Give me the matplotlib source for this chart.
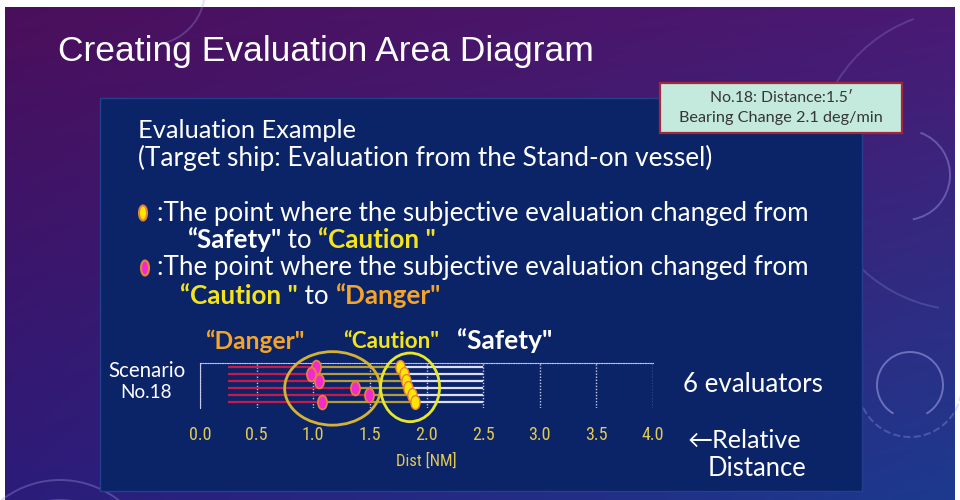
import numpy as np
import matplotlib
matplotlib.use('Agg')
import matplotlib.pyplot as plt
from matplotlib.patches import Rectangle, Ellipse, Arc
from matplotlib.path import Path
from matplotlib.transforms import Affine2D
from matplotlib.colors import to_rgb

# ---------------- data ----------------
evaluators = [1, 2, 3, 4, 5, 6]
track_start = [0.25, 0.25, 0.25, 0.25, 0.25, 0.25]
track_end = [2.5, 2.5, 2.5, 2.5, 2.5, 2.5]
danger_points = [1.02, 0.98, 1.05, 1.37, 1.49, 1.08]   # Caution -> Danger
caution_points = [1.77, 1.80, 1.82, 1.84, 1.87, 1.90]  # Safety -> Caution
x_ticks = [0.0, 0.5, 1.0, 1.5, 2.0, 2.5, 3.0, 3.5, 4.0]
x_tick_labels = ['0.0', '0.5', '1.0', '1.5', '2.0', '2.5', '3.0', '3.5', '4.0']
zone_labels = ['“Danger"', '“Caution"', '“Safety"']
x_label = 'Dist [NM]'

# ---------------- colours ----------------
RED = '#c81a4a'
OLIVE = '#b39c3c'
WHITE_LINE = '#dedef2'
PINK = '#f22ccc'
YELLOW = '#ffe600'
MARK_EDGE = '#e8823a'
TXT_YEL = '#f4e41c'
TXT_ORG = '#f3a42a'
GOLD = '#e2ca52'
BODY = ['Lato', 'DejaVu Sans']
NARROW = ['Roboto Condensed', 'Liberation Sans Narrow', 'Open Sans Condensed',
          'DejaVu Sans']

fig = plt.figure(figsize=(9.6, 5), dpi=100)
fig.patch.set_facecolor('white')
bg = fig.add_axes([0, 0, 1, 1])
bg.set_xlim(0, 960)
bg.set_ylim(500, 0)
bg.axis('off')

# slide gradient background
tl, tr = np.array(to_rgb('#4b0f5c')), np.array(to_rgb('#4a1a74'))
bl, br = np.array(to_rgb('#2c1c7a')), np.array(to_rgb('#1c3a8e'))
ny, nx = 60, 120
u = np.linspace(0, 1, nx)[None, :, None]
v = np.linspace(0, 1, ny)[:, None, None]
img = (1 - v) * ((1 - u) * tl + u * tr) + v * ((1 - u) * bl + u * br)
bg.imshow(img, extent=(5, 955, 500, 7), aspect='auto', interpolation='bilinear', zorder=0)

# faint decorative arcs
deco = dict(color='#9a9ae0', lw=1.4, zorder=1)
bg.add_patch(Arc((910, 385), 66, 66, theta1=120, theta2=420, alpha=0.6, **deco))
bg.add_patch(Arc((910, 385), 104, 104, theta1=10, theta2=170, alpha=0.35, linestyle='--', **deco))
bg.add_patch(Arc((905, 175), 90, 90, theta1=-70, theta2=80, alpha=0.45, **deco))
bg.add_patch(Arc((965, 160), 300, 300, theta1=100, theta2=250, alpha=0.25, **deco))
bg.add_patch(Arc((60, 575), 190, 190, theta1=200, theta2=340, alpha=0.35, **deco))
bg.add_patch(Arc((60, 575), 150, 150, theta1=200, theta2=340, alpha=0.35, **deco))
bg.add_patch(Arc((150, -10), 110, 110, theta1=0, theta2=80, alpha=0.3, **deco))

# blue content panel
bg.add_patch(Rectangle((100, 98), 762, 393, facecolor='#0b2468', edgecolor='#24408c',
                       lw=1, zorder=2))

renderer = fig.canvas.get_renderer()


def put(x, y, s, w=None, size=14, ha='left', **kw):
    t = bg.text(x, y, s, fontsize=size, ha=ha, va='center', zorder=5, **kw)
    if w:
        cur = t.get_window_extent(renderer).width
        t.set_fontsize(size * w / cur)
    return t


def width(t):
    return t.get_window_extent(renderer).width


# title
put(58, 52, 'Creating Evaluation Area Diagram', w=539, color='white',
    family=['Liberation Sans', 'DejaVu Sans'])

# annotation box
bg.add_patch(Rectangle((660, 83), 242, 50, facecolor='#c3eadc', edgecolor='#a3283a',
                       lw=1.6, zorder=4))
put(781, 98, 'No.18: Distance:1.5′', w=143, ha='center', color='#363636', family=BODY)
put(781, 118, 'Bearing Change 2.1 deg/min', w=204, ha='center', color='#363636', family=BODY)

# body text
put(138, 131, 'Evaluation Example', w=219, color='white', family=BODY)
put(138, 158, '(Target ship: Evaluation from the Stand-on vessel)', w=574, color='white',
    family=BODY)
t1 = put(157, 213, ':The point where the subjective evaluation changed from', w=654,
         color='white', family=BODY)
fs = t1.get_fontsize()
put(157, 268, ':The point where the subjective evaluation changed from', w=654,
    color='white', family=BODY)

# legend glyphs
bg.add_patch(Ellipse((143, 213), 8, 15, facecolor=YELLOW, edgecolor=MARK_EDGE, lw=1.5, zorder=5))
bg.add_patch(Ellipse((145, 268), 8, 15, facecolor=PINK, edgecolor=MARK_EDGE, lw=1.5, zorder=5))


def pieces(x, y, parts, size):
    for s, c, wgt in parts:
        t = put(x, y, s, size=size, color=c, fontweight=wgt, family=BODY)
        x += width(t)


pieces(187, 240, [('“Safety"', 'white', 'bold'), (' to ', 'white', 'normal'),
                  ('“Caution "', TXT_YEL, 'bold')], fs)
pieces(180, 296, [('“Caution "', TXT_YEL, 'bold'), (' to ', 'white', 'normal'),
                  ('“Danger"', TXT_ORG, 'bold')], fs)

# zone labels above the chart
put(205, 341, zone_labels[0], w=100, color=TXT_ORG, fontweight='bold', family=BODY)
put(343, 341, zone_labels[1], w=97, color=TXT_YEL, fontweight='bold', family=BODY)
put(457, 341, zone_labels[2], w=96, color='white', fontweight='bold', family=BODY)

# left / right labels
put(147, 371, 'Scenario', w=78, ha='center', color='white', family=BODY)
put(146, 393, 'No.18', w=52, ha='center', color='white', family=BODY)
put(683, 384, '6 evaluators', w=140, color='white', family=BODY)
put(688, 440, '←Relative', w=114, color='white', family=BODY)
put(708, 468, 'Distance', w=99, color='white', family=BODY)

# ---------------- chart ----------------
ax = fig.add_axes([200 / 960, 92 / 500, 453 / 960, 45.3 / 500])
ax.patch.set_alpha(0)
ax.set_xlim(0, 4.0)
ax.set_ylim(6.9, 0.43)

ax.hlines(evaluators, track_start, danger_points, color=RED, lw=1.6, zorder=3)
ax.hlines(evaluators, danger_points, caution_points, color=OLIVE, lw=1.6, zorder=3)
ax.hlines(evaluators, caution_points, track_end, color=WHITE_LINE, lw=1.6, zorder=3)

ell = Path.unit_circle().transformed(Affine2D().scale(0.66, 1.0))
ax.scatter(danger_points, evaluators, marker=ell, s=100, facecolor=PINK,
           edgecolor=MARK_EDGE, linewidth=1.2, zorder=5, clip_on=False)
ax.scatter(caution_points, evaluators, marker=ell, s=100, facecolor=YELLOW,
           edgecolor=MARK_EDGE, linewidth=1.0, zorder=5, clip_on=False)

# grouping ellipses
ax.add_patch(Ellipse((1.17, 4.1), 0.845, 10.5, fill=False, edgecolor='#d6b232', lw=2.0,
                     clip_on=False, zorder=6))
ax.add_patch(Ellipse((1.855, 3.95), 0.52, 9.8, fill=False, edgecolor='#e8e82a', lw=2.0,
                     clip_on=False, zorder=6))

ax.set_xticks(x_ticks, x_tick_labels)
ax.set_yticks([])
ax.tick_params(axis='x', length=0, pad=13, labelsize=13, labelcolor=GOLD)
for lab in ax.get_xticklabels():
    lab.set_family(NARROW)
    lab.set_fontstretch('condensed')
ax.set_xlabel(x_label, color=GOLD, fontsize=12, labelpad=6, family=NARROW,
              fontstretch='condensed')
ax.xaxis.grid(True, color='#c8c8ec', lw=1.0, linestyle=(0, (1, 1.2)))
ax.set_axisbelow(True)
for sp in ['right', 'bottom']:
    ax.spines[sp].set_visible(False)
ax.spines['top'].set_color('#c8c8ec')
ax.spines['top'].set_linestyle((0, (1, 1.2)))
ax.spines['left'].set_color('#c8c8ec')

fig.savefig('out.png', dpi=100)
